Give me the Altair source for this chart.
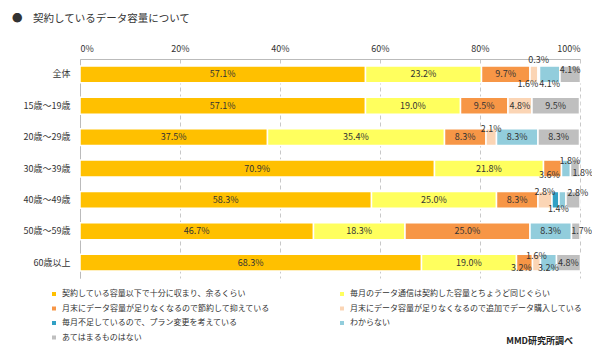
import altair as alt
import pandas as pd

FONT = "Noto Sans CJK JP"

groups = ["全体", "15歳～19歳", "20歳～29歳", "30歳～39歳", "40歳～49歳", "50歳～59歳", "60歳以上"]
categories = [
    "契約している容量以下で十分に収まり、余るくらい",
    "毎月のデータ通信は契約した容量とちょうど同じぐらい",
    "月末にデータ容量が足りなくなるので節約して抑えている",
    "月末にデータ容量が足りなくなるので追加でデータ購入している",
    "毎月不足しているので、プラン変更を考えている",
    "わからない",
    "あてはまるものはない",
]
colors = ["#FFC000", "#FFFF5E", "#F79646", "#FBD5B5", "#31A0C4", "#92CDDC", "#BFBFBF"]

values = {
    "全体":       [57.1, 23.2, 9.7, 1.6, 0.3, 4.1, 4.1],
    "15歳～19歳": [57.1, 19.0, 9.5, 4.8, 0.0, 0.0, 9.5],
    "20歳～29歳": [37.5, 35.4, 8.3, 2.1, 0.0, 8.3, 8.3],
    "30歳～39歳": [70.9, 21.8, 3.6, 0.0, 0.0, 1.8, 1.8],
    "40歳～49歳": [58.3, 25.0, 8.3, 2.8, 1.4, 1.4, 2.8],
    "50歳～59歳": [46.7, 18.3, 25.0, 0.0, 0.0, 8.3, 1.7],
    "60歳以上":   [68.3, 19.0, 3.2, 1.6, 0.0, 3.2, 4.8],
}

# label nudges for small segments (dx, dy); None = no label
label_nudge = {
    ("全体", 3): (-6, 10), ("全体", 4): (0, -14), ("全体", 5): (0, 10), ("全体", 6): (0, -4),
    ("20歳～29歳", 3): (0, -8),
    ("30歳～39歳", 2): (-3, 6), ("30歳～39歳", 5): (4, -8), ("30歳～39歳", 6): (8, 4),
    ("40歳～49歳", 3): (0, -8), ("40歳～49歳", 4): (3, 9), ("40歳～49歳", 5): None, ("40歳～49歳", 6): (5, -7),
    ("50歳～59歳", 6): (6, 0),
    ("60歳以上", 2): (-3, 5), ("60歳以上", 3): (0, -7), ("60歳以上", 5): (0, 5),
}

rows = []
for g in groups:
    cum = 0.0
    for i, (c, v) in enumerate(zip(categories, values[g])):
        if v <= 0:
            continue
        nudge = label_nudge.get((g, i), (0, 0))
        rows.append({
            "group": g, "cat": c, "order": i,
            "start": cum, "end": cum + v, "mid": cum + v / 2,
            "label": f"{v:.1f}%",
            "pl": "none" if nudge is None else f"{nudge[0]},{nudge[1]}",
        })
        cum += v
df = pd.DataFrame(rows)

base = alt.Chart(df)
yenc = alt.Y("group:N", sort=groups, title=None,
             scale=alt.Scale(paddingInner=0.46, paddingOuter=0.22),
             axis=alt.Axis(ticks=False, labelPadding=10, labelFontSize=9, labelColor="#333333",
                           labelFont=FONT, domainColor="#BBBBBB", grid=False))

bars = base.mark_bar(stroke="white", strokeWidth=1.5).encode(
    x=alt.X("start:Q", scale=alt.Scale(domain=[0, 100]), title=None,
            axis=alt.Axis(orient="top", values=[0, 20, 40, 60, 80, 100], labelExpr="datum.value + '%'",
                          ticks=False, grid=True, gridDash=[4, 3], gridColor="#C8C8C8",
                          domainColor="#BBBBBB", labelFontSize=9, labelColor="#333333",
                          labelFont=FONT, labelPadding=6)),
    x2="end:Q",
    y=yenc,
    color=alt.Color("cat:N", scale=alt.Scale(domain=categories, range=colors),
                    legend=alt.Legend(title=None, orient="none", legendX=-30, legendY=231,
                                      direction="horizontal", columns=2, columnPadding=68,
                                      rowPadding=6.5,
                                      symbolType="square", symbolSize=16, symbolStrokeWidth=0,
                                      labelFontSize=8, labelFont=FONT, labelColor="#333333",
                                      labelOffset=4, padding=0, labelLimit=400)),
    order=alt.Order("order:Q"),
)

layers = [bars]
for key in sorted(set(df["pl"])):
    if key == "none":
        continue
    dx, dy = (int(s) for s in key.split(","))
    layers.append(
        base.transform_filter(alt.datum.pl == key)
        .mark_text(fontSize=9, font=FONT, color="#333333", dx=dx, dy=dy)
        .encode(x="mid:Q", y=alt.Y("group:N", sort=groups), text="label:N")
    )

credit = alt.Chart(pd.DataFrame({"t": ["MMD研究所調べ"]})).mark_text(
    align="right", baseline="middle", fontWeight="bold", fontSize=9, font=FONT, color="#222222"
).encode(x=alt.value(493), y=alt.value(282), text="t:N")
layers.append(credit)

chart = alt.layer(*layers).properties(
    width=500, height=219,
    autosize=alt.AutoSizeParams(type="none"),
    padding={"left": 72, "top": 51, "right": 12, "bottom": 78},
    title=alt.TitleParams("●　契約しているデータ容量について", anchor="start", frame="group",
                          fontSize=10.5, fontWeight="normal", font=FONT, color="#333333",
                          dx=-68, offset=20),
).configure_view(stroke=None)

chart.save("out.html", embed_options={"renderer": "svg", "actions": False})
